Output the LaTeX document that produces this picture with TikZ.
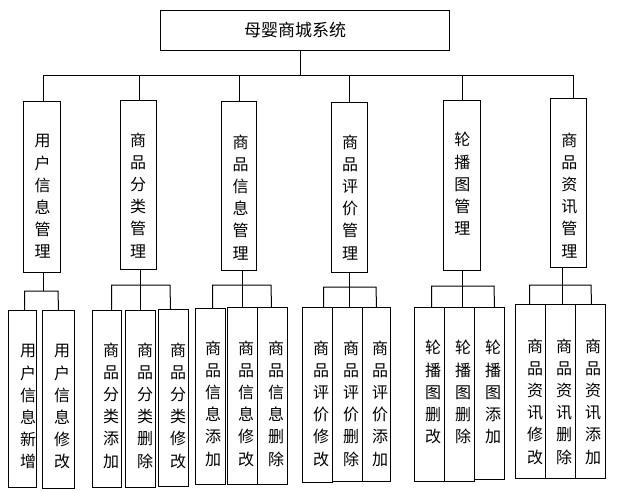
\documentclass[tikz,border=0pt]{standalone}
\usepackage{fontspec}
\newfontfamily\cjk{Noto Sans CJK SC}
\begin{document}
\begin{tikzpicture}[x=1pt,y=-1pt,line width=1pt,
  box/.style={draw,line width=1pt,inner sep=0pt,anchor=north west},
  vtxt/.style={font=\cjk\fontsize{16}{22.2}\selectfont,align=center,anchor=north,inner sep=0pt},
  ttl/.style={font=\cjk\fontsize{17}{20}\selectfont,inner sep=0pt}]
\useasboundingbox (0,0) rectangle (617,490);
% root
\node[box,minimum width=289pt,minimum height=40pt] (root) at (160,10) {};
\node[ttl] (rootT) at (295,30) {母婴商城系统};
% level 1 boxes
\node[box,minimum width=37pt,minimum height=171pt] (b1) at (23,101) {};
\node[box,minimum width=36pt,minimum height=169pt] (b2) at (120,100) {};
\node[box,minimum width=35pt,minimum height=169pt] (b3) at (221,101) {};
\node[box,minimum width=36pt,minimum height=170pt] (b4) at (331,102) {};
\node[box,minimum width=37pt,minimum height=170pt] (b5) at (443,100) {};
\node[box,minimum width=36pt,minimum height=169pt] (b6) at (550,98) {};
\node[vtxt] (t1) at (42.7,134) {用\\户\\信\\息\\管\\理};
\node[vtxt] (t2) at (138,132) {商\\品\\分\\类\\管\\理};
\node[vtxt] (t3) at (240.7,134) {商\\品\\信\\息\\管\\理};
\node[vtxt] (t4) at (350,134) {商\\品\\评\\价\\管\\理};
\node[vtxt] (t5) at (462.3,132) {轮\\播\\图\\管\\理};
\node[vtxt] (t6) at (569.3,132) {商\\品\\资\\讯\\管\\理};
% main bus
\coordinate (busL) at (43,75);
\coordinate (busR) at (573,75);
\draw ([xshift=-4.5pt]root.south) -- ([xshift=-4.5pt]root.south |- busL);
\draw (busL) -- (busR);
\draw ([xshift=1.5pt]b1.north) -- ([xshift=1.5pt]b1.north |- busL);
\draw ([xshift=1pt]b2.north) -- ([xshift=1pt]b2.north |- busL);
\draw ([xshift=0.5pt]b3.north) -- ([xshift=0.5pt]b3.north |- busL);
\draw (b4.north) -- (b4.north |- busL);
\draw (b5.north) -- (b5.north |- busL);
\draw ([xshift=5pt]b6.north) -- ([xshift=5pt]b6.north |- busR);
% level 2 boxes
\node[box,minimum width=28pt,minimum height=177pt] (c11) at (8,310) {};
\node[box,minimum width=32pt,minimum height=178pt] (c12) at (42,310) {};
\node[box,minimum width=29pt,minimum height=177pt] (c21) at (92,310) {};
\node[box,minimum width=30pt,minimum height=177pt] (c22) at (125,310) {};
\node[box,minimum width=30pt,minimum height=177pt] (c23) at (158,309) {};
\node[box,minimum width=30pt,minimum height=176pt] (c31) at (195,308) {};
\node[box,minimum width=30pt,minimum height=177pt] (c32) at (227,307) {};
\node[box,minimum width=30pt,minimum height=177pt] (c33) at (257,307) {};
\node[box,minimum width=30pt,minimum height=175pt] (c41) at (302,307) {};
\node[box,minimum width=30pt,minimum height=174pt] (c42) at (332,307) {};
\node[box,minimum width=28pt,minimum height=174pt] (c43) at (362,307) {};
\node[box,minimum width=30pt,minimum height=174pt] (c51) at (414,307) {};
\node[box,minimum width=30pt,minimum height=174pt] (c52) at (444,307) {};
\node[box,minimum width=30pt,minimum height=172pt] (c53) at (474,307) {};
\node[box,minimum width=30pt,minimum height=174pt] (c61) at (515,304) {};
\node[box,minimum width=30pt,minimum height=174pt] (c62) at (545,304) {};
\node[box,minimum width=30pt,minimum height=174pt] (c63) at (575,304) {};
\node[vtxt] (u11) at (28,344) {用\\户\\信\\息\\新\\增};
\node[vtxt] (u12) at (62,344) {用\\户\\信\\息\\修\\改};
\node[vtxt] (u21) at (111,342) {商\\品\\分\\类\\添\\加};
\node[vtxt] (u22) at (145,342) {商\\品\\分\\类\\删\\除};
\node[vtxt] (u23) at (178,342) {商\\品\\分\\类\\修\\改};
\node[vtxt] (u31) at (213,340) {商\\品\\信\\息\\添\\加};
\node[vtxt] (u32) at (246,340) {商\\品\\信\\息\\修\\改};
\node[vtxt] (u33) at (276,340) {商\\品\\信\\息\\删\\除};
\node[vtxt] (u41) at (321,340) {商\\品\\评\\价\\修\\改};
\node[vtxt] (u42) at (351,340) {商\\品\\评\\价\\删\\除};
\node[vtxt] (u43) at (380,340) {商\\品\\评\\价\\添\\加};
\node[vtxt] (u51) at (433,340) {轮\\播\\图\\删\\改};
\node[vtxt] (u52) at (463,340) {轮\\播\\图\\删\\除};
\node[vtxt] (u53) at (493,340) {轮\\播\\图\\添\\加};
\node[vtxt] (u61) at (535,338) {商\\品\\资\\讯\\修\\改};
\node[vtxt] (u62) at (564,338) {商\\品\\资\\讯\\删\\除};
\node[vtxt] (u63) at (593,338) {商\\品\\资\\讯\\添\\加};
% group buses
\coordinate (g1) at (58,291);
\coordinate (g2) at (170,285);
\coordinate (g3) at (271,285);
\coordinate (g4) at (376,287);
\coordinate (g5) at (494,286);
\coordinate (g6) at (591,285);
% group 1
\draw ([xshift=1.5pt]b1.south) -- ([xshift=1.5pt]b1.south |- g1);
\draw ([xshift=2pt]c11.north) |- (g1) -- (c12.north);
% group 2
\draw ([xshift=2pt]b2.south) -- (c22.north);
\draw ([xshift=4.5pt]c21.north) |- (g2) -- ([xshift=-3pt]c23.north);
% group 3
\draw ([xshift=3.5pt]b3.south) -- (c32.north);
\draw ([xshift=2pt]c31.north) |- (g3) -- ([xshift=-1pt]c33.north);
% group 4
\draw (b4.south) -- ([xshift=2pt]c42.north);
\draw ([xshift=6pt]c41.north) |- (g4) -- (c43.north);
% group 5
\draw ([xshift=0.5pt]b5.south) -- ([xshift=3pt]c52.north);
\draw ([xshift=2pt]c51.north) |- (g5) -- ([xshift=5pt]c53.north);
% group 6
\draw ([xshift=-6pt]b6.south) -- ([xshift=2pt]c62.north);
\draw ([xshift=-1pt]c61.north) |- (g6) -- ([xshift=1pt]c63.north);
\end{tikzpicture}
\end{document}
